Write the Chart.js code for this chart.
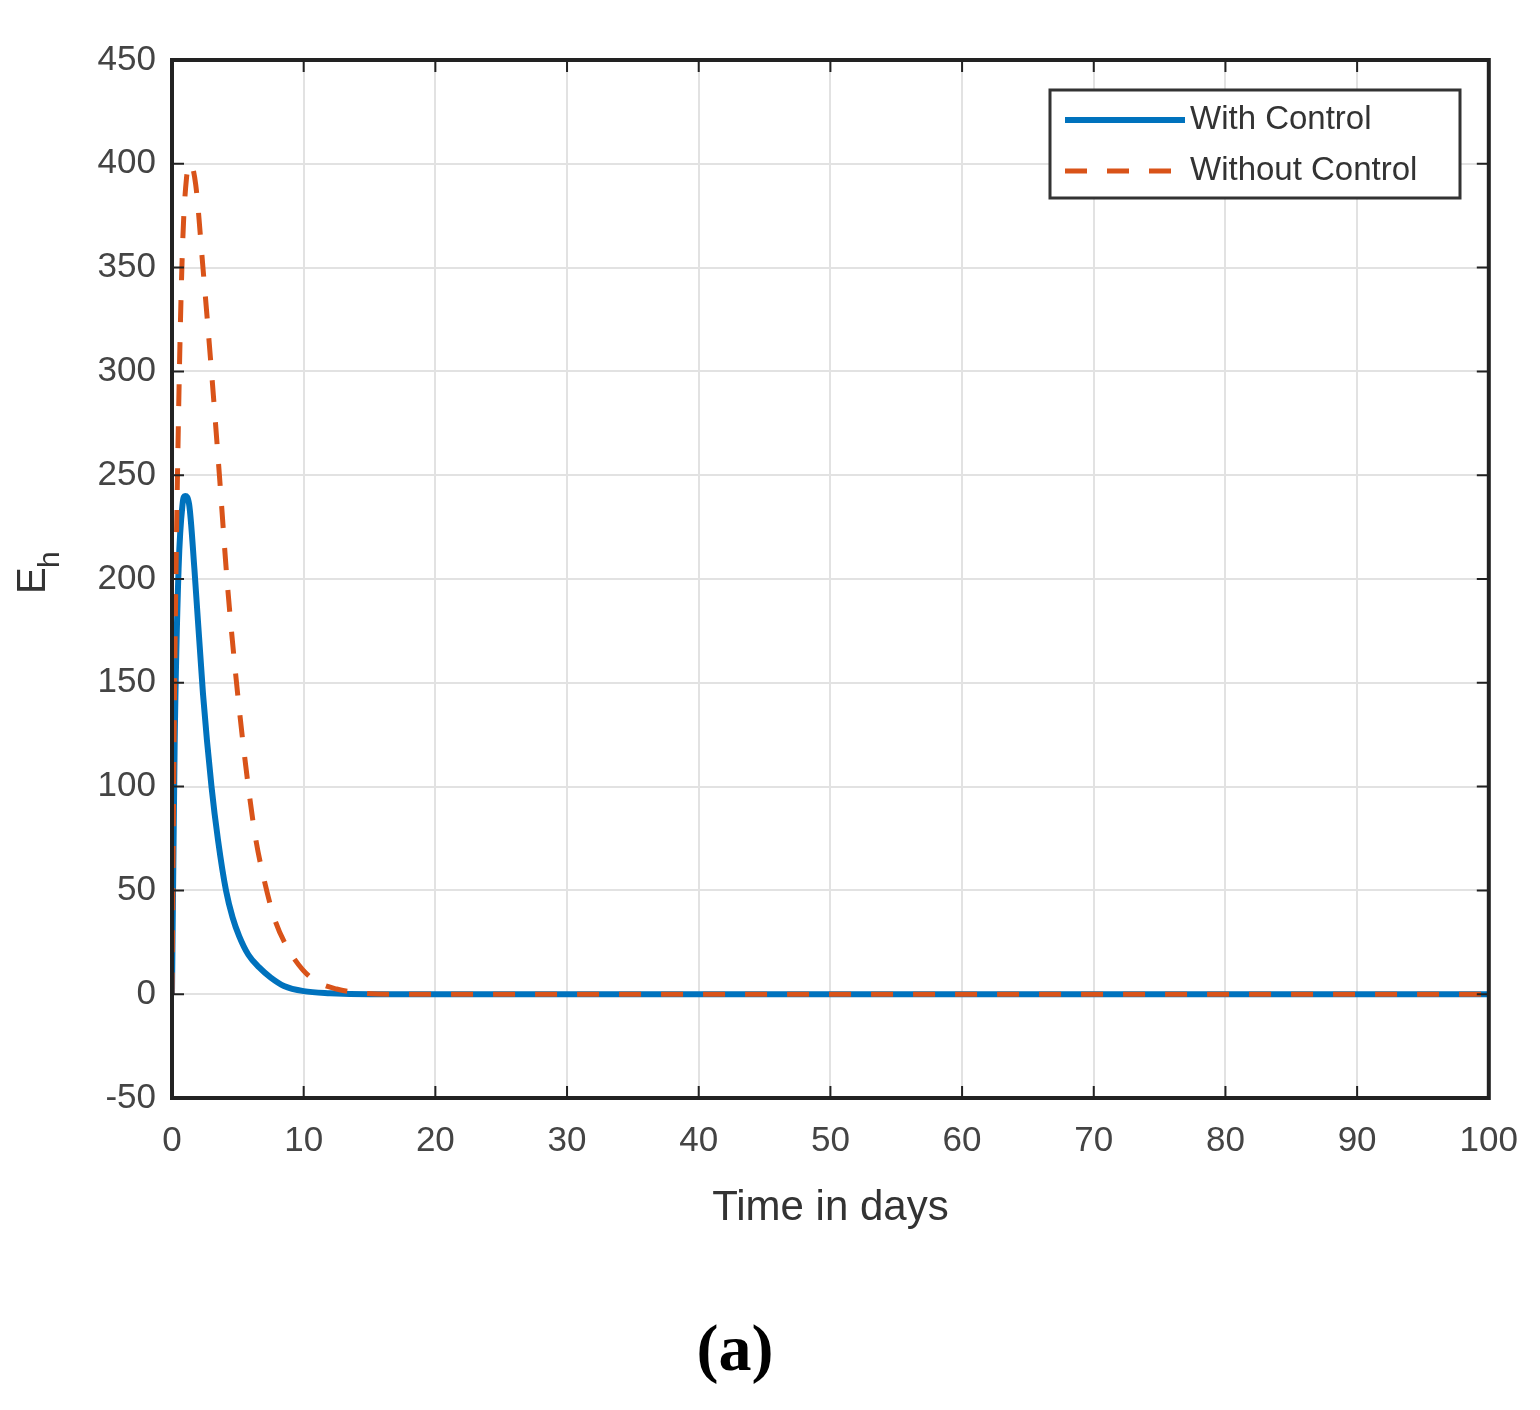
<!DOCTYPE html>
<html><head><meta charset="utf-8">
<script src="https://cdn.jsdelivr.net/npm/chart.js@4"></script>
<style>body{margin:0;background:#fff}#w{position:relative;width:1540px;height:1410px}
#lab{position:absolute;left:0;width:1470px;top:1310px;text-align:center;font:bold 66px "Liberation Serif",serif;color:#000}</style>
</head><body><div id="w"><canvas id="c" width="1540" height="1410"></canvas><div id="lab">(a)</div></div>
<script>
const withTime = [0,0.2,0.5,0.8,1.0,1.3,1.7,2.35,3,3.5,4.1,4.6,5.1,5.8,6.6,7.5,8.5,10,12,15,20,30,40,50,60,70,80,90,100];
const withVals = [0,120,205,236,240,236,205,145,100,74,50,37,28,19,13,8,4,1.5,0.5,0,0,0,0,0,0,0,0,0,0];
const withoutTime = [0,0.2,0.5,0.8,1.1,1.4,1.8,2.35,3,3.6,4.2,4.9,5.6,6.3,7,7.8,8.8,9.9,11,12.5,14,17,20,30,40,50,60,70,80,90,100];
const withoutVals = [0,150,280,360,393,400,390,350,300,250,198,150,110,77,55,36,22,12,6,2.5,0.8,0,0,0,0,0,0,0,0,0,0];
const xTicks=[0,10,20,30,40,50,60,70,80,90,100];
const yTicks=[-50,0,50,100,150,200,250,300,350,400,450];
const toPts=(t,v)=>t.map((x,i)=>({x,y:v[i]}));
const deco={id:'deco',afterDraw(ch){const c=ch.ctx,a=ch.chartArea,xs=ch.scales.x,ys=ch.scales.y;
c.save();c.strokeStyle='#222';c.lineWidth=4;c.strokeRect(a.left,a.top,a.right-a.left,a.bottom-a.top);
c.lineWidth=2;xTicks.forEach(t=>{const p=xs.getPixelForValue(t);c.beginPath();c.moveTo(p,a.bottom);c.lineTo(p,a.bottom-12);c.moveTo(p,a.top);c.lineTo(p,a.top+12);c.stroke();});
yTicks.forEach(t=>{const p=ys.getPixelForValue(t);c.beginPath();c.moveTo(a.left,p);c.lineTo(a.left+12,p);c.moveTo(a.right,p);c.lineTo(a.right-12,p);c.stroke();});
c.translate(45,580);c.rotate(-Math.PI/2);c.fillStyle='#333';c.font='40px "Liberation Sans",Arial';c.textBaseline='alphabetic';c.fillText('E',-14,0);c.font='30px "Liberation Sans",Arial';c.fillText('h',12,14);
c.setTransform(1,0,0,1,0,0);
const lx=1050,ly=90,lw=410,lh=108;c.fillStyle='#fff';c.fillRect(lx,ly,lw,lh);c.strokeStyle='#333';c.lineWidth=3;c.strokeRect(lx,ly,lw,lh);
c.font='33px "Liberation Sans",Arial';c.textBaseline='middle';c.fillStyle='#333';
ch.data.datasets.forEach((d,i)=>{const y=ly+30+i*51;c.strokeStyle=d.borderColor;c.lineWidth=d.borderWidth;c.setLineDash(d.borderDash||[]);c.beginPath();c.moveTo(lx+15,y);c.lineTo(lx+135,y);c.stroke();c.setLineDash([]);c.fillText(d.label,lx+140,y);});
c.restore();}};
new Chart(document.getElementById('c'),{type:'line',
data:{datasets:[
{label:'With Control',order:1,data:toPts(withTime,withVals),borderColor:'#0072BD',borderWidth:6,pointRadius:0,cubicInterpolationMode:'monotone'},
{label:'Without Control',order:0,data:toPts(withoutTime,withoutVals),borderColor:'#D95319',borderWidth:5,borderDash:[22,20],pointRadius:0,cubicInterpolationMode:'monotone'}]},
options:{responsive:false,animation:false,devicePixelRatio:1,
layout:{padding:{top:60,right:40,left:0,bottom:172}},
plugins:{legend:{display:false},tooltip:{enabled:false}},
scales:{
x:{type:'linear',min:0,max:100,afterBuildTicks:s=>{s.ticks=xTicks.map(v=>({value:v}))},afterFit:s=>{s.height=140},
grid:{color:'#e2e2e2',lineWidth:2,drawTicks:false},border:{display:false},
ticks:{color:'#444',font:{size:35,family:'"Liberation Sans",Arial'},padding:22,maxRotation:0},
title:{display:true,text:'Time in days',color:'#333',font:{size:42,family:'"Liberation Sans",Arial'},padding:{top:4}}},
y:{min:-50,max:450,afterBuildTicks:s=>{s.ticks=yTicks.map(v=>({value:v}))},afterFit:s=>{s.width=172},
grid:{color:'#e2e2e2',lineWidth:2,drawTicks:false},border:{display:false},
ticks:{color:'#444',font:{size:35,family:'"Liberation Sans",Arial'},padding:16}}}},
plugins:[deco]});
</script></body></html>
